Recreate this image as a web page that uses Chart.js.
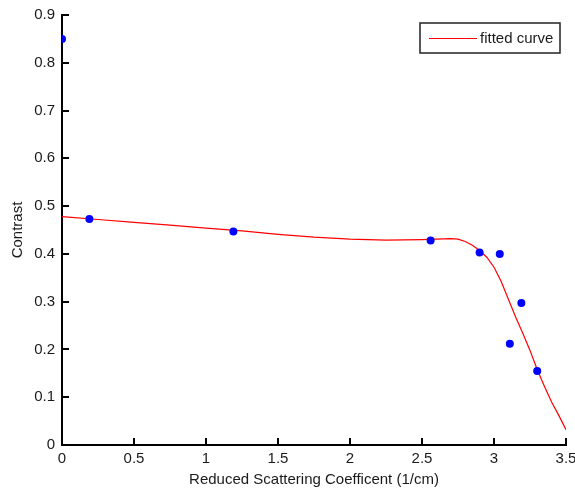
<!DOCTYPE html>
<html>
<head>
<meta charset="utf-8">
<script src="https://cdn.jsdelivr.net/npm/chart.js@4.4.1/dist/chart.umd.min.js"></script>
<style>
  html, body { margin: 0; padding: 0; background: #fff; }
  #wrap { width: 575px; height: 495px; position: relative; }
</style>
</head>
<body>
<div id="wrap"><canvas id="contrastChart"></canvas></div>
<script>
// measured points
const pointX = [0, 0.19, 1.19, 2.56, 2.90, 3.04, 3.19, 3.11, 3.30];
const pointY = [0.85, 0.473, 0.447, 0.428, 0.403, 0.400, 0.297, 0.212, 0.155];

// fitted curve
const curveX = [0, 0.25, 0.5, 0.75, 1.0, 1.25, 1.5, 1.75, 2.0, 2.25, 2.5, 2.6, 2.7, 2.75, 2.8,
                2.85, 2.9, 2.95, 3.0, 3.05, 3.1, 3.15, 3.2, 3.25, 3.3, 3.35, 3.4, 3.45, 3.5];
const curveY = [0.478, 0.472, 0.466, 0.460, 0.454, 0.448, 0.441, 0.435, 0.431, 0.429, 0.430, 0.431, 0.432, 0.431, 0.426,
                0.418, 0.407, 0.393, 0.372, 0.342, 0.305, 0.268, 0.234, 0.198, 0.158, 0.123, 0.090, 0.062, 0.032];

const xTicks = [0, 0.5, 1, 1.5, 2, 2.5, 3, 3.5];
const yTicks = [0, 0.1, 0.2, 0.3, 0.4, 0.5, 0.6, 0.7, 0.8, 0.9];

const fontFamily = "'Liberation Sans', Arial, Helvetica, sans-serif";
const textColor = '#1a1a1a';

// MATLAB style ticks pointing into the plot
const innerTicks = {
  id: 'innerTicks',
  afterDraw(chart) {
    const c = chart.ctx;
    const xs = chart.scales.x, ys = chart.scales.y;
    const len = 7;
    const x0 = Math.round(xs.left);
    const y0 = Math.round(ys.bottom);
    c.save();
    c.strokeStyle = '#000';
    c.lineWidth = 2;
    c.beginPath();
    xTicks.forEach(v => {
      const px = Math.round(xs.getPixelForValue(v));
      c.moveTo(px, y0);
      c.lineTo(px, y0 - len);
    });
    yTicks.forEach(v => {
      const py = Math.round(ys.getPixelForValue(v));
      c.moveTo(x0, py);
      c.lineTo(x0 + len, py);
    });
    c.stroke();
    c.restore();
  }
};

// boxed legend in the top right corner
const boxLegend = {
  id: 'boxLegend',
  afterDraw(chart) {
    const ds = chart.data.datasets[1];
    const c = chart.ctx;
    const area = chart.chartArea;
    const w = 140, h = 30;
    const bx = Math.round(area.right - 6 - w);
    const by = Math.round(area.top + 8);
    c.save();
    c.fillStyle = '#fff';
    c.fillRect(bx, by, w, h);
    c.strokeStyle = '#222';
    c.lineWidth = 1.5;
    c.strokeRect(bx, by, w, h);
    const ly = Math.round(by + h / 2) + 0.5;
    c.strokeStyle = ds.borderColor;
    c.lineWidth = 1.2;
    c.beginPath();
    c.moveTo(bx + 9, ly);
    c.lineTo(bx + 57, ly);
    c.stroke();
    c.fillStyle = textColor;
    c.font = '15px ' + fontFamily;
    c.textBaseline = 'middle';
    c.fillText(ds.label, bx + 60, ly);
    c.restore();
  }
};

const ctx = document.getElementById('contrastChart').getContext('2d');
new Chart(ctx, {
  type: 'scatter',
  data: {
    datasets: [{
      label: 'data',
      data: pointX.map((x, i) => ({ x: x, y: pointY[i] })),
      backgroundColor: '#0000ff',
      borderWidth: 0,
      pointRadius: 4,
      pointHoverRadius: 4
    }, {
      label: 'fitted curve',
      type: 'line',
      data: curveX.map((x, i) => ({ x: x, y: curveY[i] })),
      borderColor: '#ff0000',
      borderWidth: 1.2,
      pointRadius: 0,
      tension: 0,
      fill: false
    }]
  },
  options: {
    responsive: true,
    maintainAspectRatio: false,
    animation: false,
    layout: { padding: { left: 0, top: 15, right: 9, bottom: 0 } },
    plugins: {
      legend: { display: false },
      tooltip: { enabled: false }
    },
    scales: {
      x: {
        type: 'linear',
        min: 0,
        max: 3.5,
        afterBuildTicks: s => { s.ticks = xTicks.map(v => ({ value: v })); },
        afterFit: s => { s.height = 50; s.paddingLeft = 0; s.paddingRight = 0; },
        ticks: {
          color: textColor, padding: 5, maxRotation: 0,
          font: { family: fontFamily, size: 15 },
          callback: v => String(v)
        },
        grid: { display: false, drawTicks: false },
        border: { display: true, color: '#000', width: 2 },
        title: {
          display: true,
          text: 'Reduced Scattering Coefficent (1/cm)',
          color: textColor,
          font: { family: fontFamily, size: 15 },
          padding: { top: 0, bottom: 6 }
        }
      },
      y: {
        type: 'linear',
        min: 0,
        max: 0.9,
        afterBuildTicks: s => { s.ticks = yTicks.map(v => ({ value: v })); },
        afterFit: s => { s.width = 62; s.paddingTop = 0; s.paddingBottom = 0; },
        ticks: {
          color: textColor, padding: 7,
          font: { family: fontFamily, size: 15 },
          callback: v => String(v)
        },
        grid: { display: false, drawTicks: false },
        border: { display: true, color: '#000', width: 2 },
        title: {
          display: true,
          text: 'Contrast',
          color: textColor,
          font: { family: fontFamily, size: 15 },
          padding: { top: 9, bottom: 0 }
        }
      }
    }
  },
  plugins: [innerTicks, boxLegend]
});
</script>
</body>
</html>
